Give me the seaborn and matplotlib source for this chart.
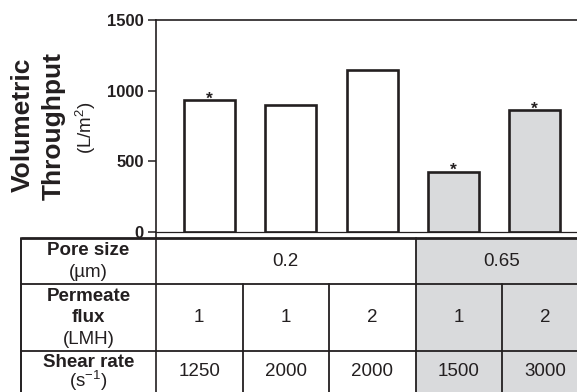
import itertools

import matplotlib
matplotlib.use("Agg")
import matplotlib.pyplot as plt
from matplotlib.patches import Rectangle
import pandas as pd
import seaborn as sns

# --- data -------------------------------------------------------------
conditions = ["C1", "C2", "C3", "C4", "C5"]
throughput = [930, 900, 1145, 425, 860]          # L/m^2
significant = [True, False, False, True, True]
pore_size = ["0.2", "0.2", "0.2", "0.65", "0.65"]  # µm
permeate_flux = ["1", "1", "2", "1", "2"]          # LMH
shear_rate = ["1250", "2000", "2000", "1500", "3000"]  # 1/s
yticks = [0, 500, 1000, 1500]
row_labels = [
    ["Pore size", "(µm)"],
    ["Permeate", "flux", "(LMH)"],
    ["Shear rate", "(s$^{-1}$)"],
]

# --- style ------------------------------------------------------------
INK = "#231f20"
GREY = "#d9dadc"
pore_fill = {"0.2": "white", "0.65": GREY}

sns.set_theme(style="white")
plt.rcParams["font.family"] = ["Liberation Sans", "DejaVu Sans"]
plt.rcParams["mathtext.fontset"] = "custom"
plt.rcParams["mathtext.rm"] = "Liberation Sans"
plt.rcParams["mathtext.it"] = "Liberation Sans:italic"
plt.rcParams["mathtext.bf"] = "Liberation Sans:bold"
plt.rcParams["text.color"] = INK

W, H = 577, 392
fig = plt.figure(figsize=(W / 100, H / 100), dpi=100)

# pixel layout of the bar panel
ax_left, ax_right = 155.7, 577.0
ax_top, ax_bottom = 20.0, 231.7
ax = fig.add_axes([ax_left / W, 1 - ax_bottom / H,
                   (ax_right - ax_left) / W, (ax_bottom - ax_top) / H])

df = pd.DataFrame({"condition": conditions, "throughput": throughput,
                   "pore": pore_size})
sns.barplot(data=df, x="condition", y="throughput", hue="pore",
            palette=pore_fill, dodge=False, width=0.63, saturation=1,
            edgecolor=INK, linewidth=1.9, legend=False, ax=ax)

for i, (v, sig) in enumerate(zip(throughput, significant)):
    if sig:
        ax.annotate("*", (i, v), xytext=(0, -2.2), textcoords="offset points",
                    ha="center", va="baseline", fontsize=12.5,
                    fontweight="bold", color=INK)

ax.set_ylim(0, 1500)
ax.set_xlim(-0.665, 4.523)
ax.set_yticks(yticks)
ax.set_yticklabels([str(t) for t in yticks], fontweight="bold")
ax.set_xticks([])
ax.set_xlabel("")
ax.set_ylabel("")
ax.tick_params(axis="y", direction="out", length=5.5, width=1.1, color=INK,
               labelsize=12, labelcolor=INK, pad=3, left=True)
for side in ("left", "top"):
    ax.spines[side].set_linewidth(1.2)
    ax.spines[side].set_color(INK)
ax.spines["bottom"].set_linewidth(0.9)
ax.spines["bottom"].set_color(INK)
ax.spines["right"].set_visible(False)

# axis title, three stacked lines
fig.text(22.5 / W, 1 - 125 / H, "Volumetric", rotation=90, ha="center",
         va="center", fontsize=19, fontweight="bold", color=INK)
fig.text(54 / W, 1 - 126.5 / H, "Throughput", rotation=90, ha="center",
         va="center", fontsize=19, fontweight="bold", color=INK)
fig.text(85.5 / W, 1 - 128 / H, "(L/m$^{2}$)", rotation=90, ha="center",
         va="center", fontsize=13.5, color=INK)

# --- condition table under the bars -------------------------------------
tab = fig.add_axes([0, 0, 1, 1], zorder=-1)
tab.set_xlim(0, W)
tab.set_ylim(H, 0)
tab.axis("off")

tab_left, tab_top = 20.7, 238.3
col0, col_w = 156.0, 86.5
row_h = [46.0, 66.7, 42.0]
line_gaps = [21.5, 21.5, 18.5]
row_y = [tab_top]
for h in row_h:
    row_y.append(row_y[-1] + h)
bottom = H + 10
fs = 13.5
n = len(conditions)
col_edges = [col0 + k * col_w for k in range(n + 1)]

# shaded cells follow the pore size of each column
for k, p in enumerate(pore_size):
    tab.add_patch(Rectangle((col_edges[k], tab_top), col_w, bottom - tab_top,
                            facecolor=pore_fill[p], edgecolor="none", zorder=0))

# grid
tab.plot([tab_left, W + 20], [tab_top, tab_top], color=INK, lw=2.0,
         solid_capstyle="butt")
for y in row_y[1:-1]:
    tab.plot([tab_left, W + 20], [y, y], color=INK, lw=1.3)
tab.plot([tab_left, tab_left], [tab_top, bottom], color=INK, lw=1.4)
tab.plot([col0, col0], [ax_bottom, bottom], color=INK, lw=1.2)

# pore size row: merged cells
start = 0
for p, grp in itertools.groupby(pore_size):
    span = len(list(grp))
    x0, x1 = col_edges[start], col_edges[start + span]
    tab.text((x0 + x1) / 2, (row_y[0] + row_y[1]) / 2, p, ha="center",
             va="center", fontsize=fs, color=INK)
    if start > 0:
        tab.plot([x0, x0], [row_y[0], row_y[1]], color=INK, lw=1.3)
    start += span

# per-column rows
for r, values in ((1, permeate_flux), (2, shear_rate)):
    yc = (row_y[r] + row_y[r + 1]) / 2
    y_end = row_y[r + 1] if r < 2 else bottom
    for k, v in enumerate(values):
        tab.text(col_edges[k] + col_w / 2, yc, v, ha="center", va="center",
                 fontsize=fs, color=INK)
        if k > 0:
            tab.plot([col_edges[k]] * 2, [row_y[r], y_end],
                     color=INK, lw=1.3)

# row headers
label_x = (tab_left + col0) / 2
for r, lines in enumerate(row_labels):
    yc = (row_y[r] + row_y[r + 1]) / 2
    m = len(lines)
    for j, txt in enumerate(lines):
        y = yc + (j - (m - 1) / 2) * line_gaps[r]
        bold = j < m - 1
        tab.text(label_x, y, txt, ha="center", va="center", fontsize=fs,
                 fontweight="bold" if bold else "normal", color=INK)

fig.savefig("out.png", dpi=100)
